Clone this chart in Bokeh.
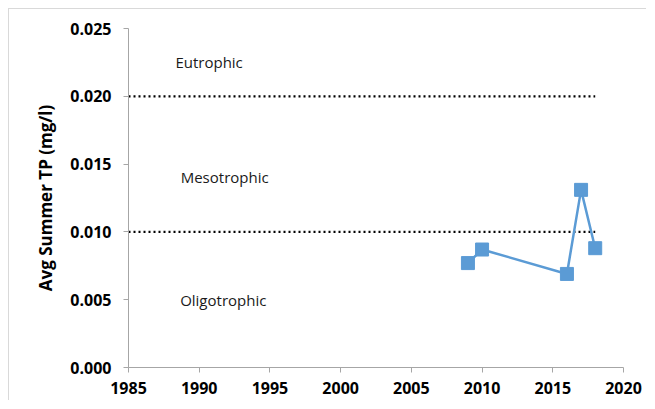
from bokeh.plotting import figure
from bokeh.models import Range1d, FixedTicker, Label, ColumnDataSource, CustomJSTickFormatter
from bokeh.embed import file_html
from bokeh.resources import INLINE

years = [2009, 2010, 2016, 2017, 2018]
tp = [0.0077, 0.0087, 0.0069, 0.0131, 0.0088]
threshold_years = [1985, 2018]
eutrophic_level = 0.020
mesotrophic_level = 0.010
x_ticks = [1985, 1990, 1995, 2000, 2005, 2010, 2015, 2020]
y_ticks = [0.000, 0.005, 0.010, 0.015, 0.020, 0.025]
zone_labels = ["Eutrophic", "Mesotrophic", "Oligotrophic"]
zone_label_x = [1990.7, 1991.8, 1991.7]
zone_label_y = [0.02253, 0.01405, 0.0050]

p = figure(width=638, height=392, output_backend="svg", toolbar_location=None,
           x_range=Range1d(1985, 2020), y_range=Range1d(0, 0.025),
           min_border_left=119, min_border_right=24, min_border_top=19, min_border_bottom=34)
p.styles = {"margin-left": "8px", "margin-top": "8px",
            "border-left": "1px solid #d9d9d9", "border-top": "1px solid #d9d9d9"}
p.outline_line_color = None
p.xgrid.grid_line_color = None
p.ygrid.grid_line_color = None
p.background_fill_color = "white"
p.border_fill_color = "white"

for ax, ticks in ((p.xaxis[0], x_ticks), (p.yaxis[0], y_ticks)):
    ax.ticker = FixedTicker(ticks=ticks)
    ax.minor_tick_line_color = None
    ax.axis_line_color = "#a6a6a6"
    ax.major_tick_line_color = "#a6a6a6"
    ax.major_tick_in = 0
    ax.major_tick_out = 5
    ax.major_label_text_font = "Open Sans"
    ax.major_label_text_font_style = "bold"
    ax.major_label_text_font_size = "16px"
    ax.major_label_text_color = "black"

p.yaxis[0].formatter = CustomJSTickFormatter(code="return tick.toFixed(3);")
p.yaxis[0].major_label_standoff = 12
p.xaxis[0].major_label_standoff = 9
p.yaxis[0].axis_label = "Avg Summer TP (mg/l)"
p.yaxis[0].axis_label_text_font = "Open Sans"
p.yaxis[0].axis_label_text_font_style = "bold"
p.yaxis[0].axis_label_text_font_size = "17px"
p.yaxis[0].axis_label_text_color = "black"
p.yaxis[0].axis_label_standoff = 10

for lvl in (eutrophic_level, mesotrophic_level):
    p.line(threshold_years, [lvl, lvl], line_color="black", line_width=2.2, line_dash="2 3")

src = ColumnDataSource(dict(x=years, y=tp))
p.line("x", "y", source=src, line_color="#5B9BD5", line_width=2.5)
p.scatter("x", "y", source=src, marker="square", size=13, fill_color="#5B9BD5", line_color="#5B9BD5")

for t, x, y in zip(zone_labels, zone_label_x, zone_label_y):
    p.add_layout(Label(x=x, y=y, text=t, text_font="Open Sans", text_font_size="15px",
                       text_align="center", text_baseline="middle", text_color="#1a1a1a"))

open("out.html", "w").write(file_html(p, INLINE))
